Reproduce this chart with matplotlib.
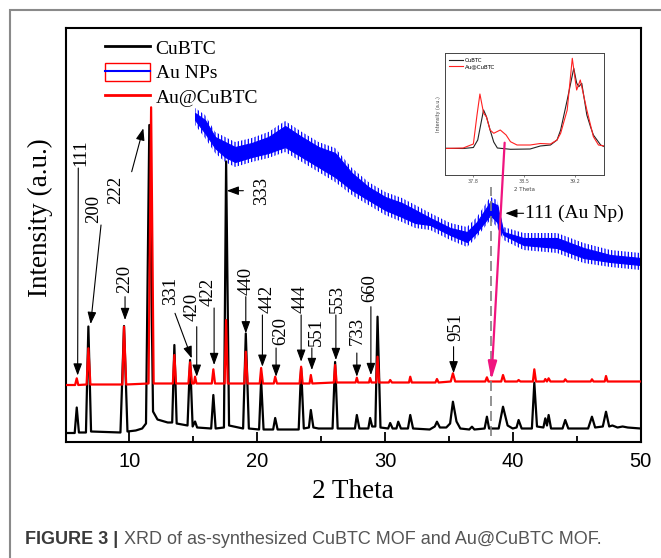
import numpy as np
import matplotlib
matplotlib.use('Agg')
import matplotlib.pyplot as plt
from matplotlib.lines import Line2D
from matplotlib.patches import Rectangle
from matplotlib.legend_handler import HandlerTuple

# XRD patterns: (2 theta, intensity in a.u.)
cubtc = [
    (5.0, 8.5), (5.72, 8.5), (5.88, 34), (6.05, 9), (6.6, 9), (6.79, 115), (7.0, 10),
    (9.3, 9), (9.58, 115.5), (9.85, 10), (10.5, 11), (11.0, 13), (11.3, 18),
    (11.56, 316.5), (11.85, 30), (12.2, 22), (13.0, 19), (13.35, 19), (13.52, 96.5),
    (13.7, 18), (14.55, 16), (14.75, 81.5), (14.95, 15), (15.14, 20), (15.3, 14),
    (16.4, 13), (16.57, 46.5), (16.75, 13), (17.4, 14), (17.57, 280), (17.8, 16),
    (18.9, 13), (19.11, 108), (19.35, 13), (20.15, 12), (20.31, 61.5), (20.5, 12),
    (21.25, 12), (21.41, 23.5), (21.6, 12), (23.25, 12), (23.44, 73.5), (23.65, 13),
    (24.05, 14), (24.2, 31.5), (24.4, 14), (24.8, 13), (25.9, 13), (26.1, 79.5),
    (26.3, 13), (27.65, 13), (27.8, 26.5), (28.0, 13), (28.7, 13), (28.84, 23.5),
    (29.0, 15), (29.25, 15), (29.42, 124.8), (29.65, 14), (30.25, 13), (30.41, 18.5),
    (30.6, 13), (30.9, 13), (31.04, 19.8), (31.25, 13), (31.8, 13), (31.98, 26.5),
    (32.2, 13), (33.5, 12), (33.9, 15), (34.07, 19.8), (34.3, 14), (34.8, 14),
    (35.1, 18), (35.32, 39.8), (35.6, 20), (35.9, 13), (36.6, 12), (36.81, 14.8),
    (37.0, 12), (37.8, 13), (37.98, 24.8), (38.15, 13), (38.9, 13), (39.24, 34.8),
    (39.6, 16), (40.0, 13), (40.3, 14), (40.46, 21.5), (40.7, 13), (41.5, 13),
    (41.69, 58.8), (41.9, 15), (42.4, 14), (42.55, 23.2), (42.68, 16), (42.81, 26.5),
    (43.0, 13), (43.9, 13), (44.11, 21.5), (44.35, 13), (45.9, 13), (46.2, 24.8),
    (46.45, 14), (47.05, 15), (47.3, 29.8), (47.55, 15), (47.8, 16), (48.2, 14),
    (48.6, 15), (49.0, 14), (50.0, 13),
]

au_cubtc = [
    (5.0, 56.5), (5.75, 56.5), (5.88, 63.2), (6.0, 56.5), (6.65, 57), (6.79, 93.2),
    (6.95, 57), (9.45, 57), (9.58, 114.8), (9.75, 57), (11.5, 58), (11.7, 334.2),
    (11.9, 58), (13.4, 58), (13.52, 86.5), (13.65, 58), (14.62, 58), (14.75, 79.2),
    (14.9, 58), (15.05, 58), (15.14, 64.8), (15.25, 58), (16.45, 58), (16.57, 72.2),
    (16.7, 58), (17.45, 58), (17.57, 121.5), (17.7, 58), (19.0, 58), (19.11, 89.8),
    (19.25, 58), (20.2, 58), (20.31, 73.5), (20.45, 58), (21.3, 58), (21.41, 64.8),
    (21.55, 58), (23.32, 58), (23.44, 74.8), (23.56, 58), (24.1, 58), (24.2, 66.5),
    (24.32, 58), (26.0, 59), (26.1, 76.5), (26.22, 59), (27.7, 59), (27.8, 63.8),
    (27.9, 59), (28.75, 59), (28.84, 63.5), (28.95, 59), (29.32, 59), (29.42, 84.8),
    (29.55, 59), (30.3, 59), (30.41, 61.5), (30.55, 59), (31.88, 59), (31.98, 64.8),
    (32.1, 59), (33.95, 59), (34.07, 62.5), (34.2, 59), (35.15, 60), (35.32, 68.2),
    (35.5, 60), (37.85, 60), (37.98, 64.2), (38.1, 60), (39.1, 60), (39.24, 66.5),
    (39.4, 60), (40.35, 60), (40.46, 61.5), (40.6, 60), (41.58, 60), (41.69, 72.2),
    (41.82, 60), (42.45, 60), (42.55, 62.5), (42.68, 60), (42.81, 63.2), (42.95, 60),
    (44.0, 60), (44.11, 62.2), (44.25, 60), (46.1, 60), (46.2, 62.2), (46.32, 60),
    (47.2, 60), (47.3, 65.5), (47.42, 60), (50.0, 60),
]

# Au NPs: noisy trace, read as lower / upper edge of the noise band
blue_tt = [15.14, 15.92, 16.71, 17.49, 18.27, 19.58, 20.88, 22.19, 23.5, 24.8, 26.1,
           27.41, 28.71, 30.02, 31.33, 32.37, 33.54, 35.11, 36.42, 37.2, 38.24, 38.77,
           39.28, 40.85, 43.47, 45.55, 47.64, 50.0]
blue_lo = [316.5, 303.5, 288.5, 279.5, 274.5, 279.5, 283.5, 289.5, 279.5, 269.5, 259.5,
           246.5, 236.5, 226.5, 219.5, 213.5, 211.5, 201.5, 194.5, 204.5, 221.5, 214.5,
           201.5, 191.5, 188.5, 178.5, 174.5, 171.5]
blue_hi = [333.5, 326.5, 309.5, 304.5, 299.5, 303.5, 309.5, 320.5, 309.5, 299.5, 293.5,
           273.5, 259.5, 249.5, 243.5, 236.5, 228.5, 218.5, 214.5, 224.5, 244.5, 241.5,
           214.5, 208.5, 208.5, 198.5, 191.5, 188.5]

# inset: zoom on 37.4 - 39.6
ins_cubtc = [(37.41, 26.7), (37.66, 26.5), (37.8, 27.5), (37.86, 35), (37.94, 65),
             (37.98, 58.3), (38.03, 45), (38.08, 33), (38.13, 27), (38.31, 25.7),
             (38.58, 26), (38.72, 29), (38.86, 30), (38.95, 35), (39.0, 45), (39.09, 75),
             (39.18, 106.7), (39.22, 92), (39.25, 88.3), (39.29, 91.7), (39.36, 60),
             (39.41, 48.3), (39.45, 40), (39.5, 35), (39.55, 30), (39.6, 28.3)]
ins_au = [(37.41, 26.5), (37.66, 27), (37.8, 31), (37.85, 60), (37.89, 81), (37.94, 62),
          (37.98, 58), (38.03, 45), (38.08, 41.7), (38.17, 45), (38.25, 40), (38.31, 33.3),
          (38.4, 30), (38.58, 30), (38.72, 31.5), (38.86, 31), (38.95, 35), (39.0, 41.7),
          (39.09, 65), (39.16, 116.7), (39.2, 95), (39.22, 85), (39.27, 95), (39.36, 65),
          (39.45, 38.3), (39.52, 30), (39.6, 29)]

# hkl labels: text, text centre, arrow start, arrow tip
peak_labels = [
    ('111', (6.19, 288.5), (6.0, 273.5), (5.95, 66)),
    ('200', (7.23, 232.5), (7.78, 216.5), (6.97, 117.5)),
    ('222', (8.93, 251.5), (10.18, 269.8), (11.09, 313.2)),
    ('220', (9.6, 162.5), (9.66, 144.8), (9.66, 121.5)),
    ('331', (13.26, 150.5), (13.57, 128.2), (14.88, 83.2)),
    ('420', (14.93, 134.5), (15.27, 114.8), (15.27, 64.8)),
    ('422', (16.14, 149.5), (16.63, 133.5), (16.63, 76.5)),
    ('333', (20.31, 250.5), (18.92, 250.8), (17.62, 250.8)),
    ('440', (19.11, 160.5), (19.11, 144.8), (19.11, 108.2)),
    ('442', (20.76, 142.5), (20.41, 126.5), (20.41, 74.8)),
    ('620', (21.85, 110.5), (21.48, 93.5), (21.48, 64.8)),
    ('444', (23.36, 142.5), (23.44, 126.5), (23.44, 79.8)),
    ('551', (24.67, 109.5), (24.28, 93.5), (24.28, 71.5)),
    ('553', (26.24, 142.5), (26.16, 126.5), (26.16, 81.5)),
    ('733', (27.85, 110.5), (27.8, 88.5), (27.8, 64.8)),
    ('660', (28.84, 153.5), (28.9, 134.8), (28.9, 66.5)),
    ('951', (35.56, 114.5), (35.37, 94.8), (35.37, 68.2)),
]

serif = 'Liberation Serif'
sans = 'Liberation Sans'
plt.rcParams['hatch.linewidth'] = 0.9

fig = plt.figure(figsize=(6.61, 5.58), dpi=100)

# grey frame of the figure panel
fig.add_artist(Rectangle((10 / 661, -0.1), 2, 1 - 10.5 / 558 + 0.1,
                         transform=fig.transFigure, facecolor='none',
                         edgecolor='#8a8a8a', lw=1.5))

ax = fig.add_axes([65.5 / 661, 1 - 441.5 / 558, 575 / 661, 413.5 / 558])

# noise band: spiky fringe (hatched) around a dense core
ax.fill_between(blue_tt, blue_lo, blue_hi, facecolor='none', edgecolor='#0000ff',
                hatch='|||||', lw=0, zorder=1)
core = 5
ax.fill_between(blue_tt, np.array(blue_lo) + core, np.array(blue_hi) - core,
                color='#0000ff', lw=0.8, zorder=1)
ax.plot(*zip(*cubtc), color='black', lw=1.6, zorder=2)
ax.plot(*zip(*au_cubtc), color='#ff0000', lw=1.6, zorder=3)

ax.set_xlim(5, 50)
ax.set_ylim(0, 413.5)
ax.set_xticks([10, 20, 30, 40, 50])
ax.set_xticks([5, 15, 25, 35, 45], minor=True)
ax.set_yticks([])
ax.tick_params(axis='x', which='major', direction='in', length=7, width=1.3, pad=7.5,
               labelsize=14.5)
ax.tick_params(axis='x', which='minor', direction='in', length=4.5, width=1.3)
for lab in ax.get_xticklabels():
    lab.set_fontfamily(sans)
for s in ax.spines.values():
    s.set_linewidth(1.5)

ax.set_xlabel('2 Theta', fontfamily=serif, fontsize=19.5)
ax.xaxis.set_label_coords(0.5, -0.09)
ax.set_ylabel('Intensity (a.u.)', fontfamily=serif, fontsize=19.5)
ax.yaxis.set_label_coords(-0.022, 0.542)

arrow = dict(arrowstyle='-|>,head_length=0.6,head_width=0.22', color='black', lw=0.8,
             shrinkA=0, shrinkB=0, mutation_scale=12)
for txt, pos, tail, tip in peak_labels:
    ax.annotate('', xy=tip, xytext=tail, arrowprops=arrow, zorder=4)
    ax.text(pos[0], pos[1], txt, rotation=90, ha='center', va='center',
            fontfamily=serif, fontsize=13.5, zorder=4)

ax.annotate('', xy=(39.42, 228.2), xytext=(40.85, 228.2), arrowprops=arrow, zorder=4)
ax.text(40.98, 228.0, '111 (Au Np)', ha='left', va='center', fontfamily=serif,
        fontsize=14)

ax.vlines(38.3, 6, 255, colors='#808080', linestyles=(0, (6, 3)), lw=1.2, zorder=4)

handles = [Line2D([], [], color='black', lw=2),
           (Rectangle((0, 0), 1, 1, facecolor='none', edgecolor='#ff0000', lw=1),
            Line2D([], [], color='#0000ff', lw=1.5)),
           Line2D([], [], color='#ff0000', lw=2)]
ax.legend(handles, ['CuBTC', 'Au NPs', 'Au@CuBTC'],
          handler_map={tuple: HandlerTuple(ndivide=1)},
          loc='upper left', bbox_to_anchor=(0.0687, 0.976), frameon=False,
          borderpad=0, borderaxespad=0, handlelength=2.3, handleheight=1.1,
          handletextpad=0.3, labelspacing=0.24, prop={'family': serif, 'size': 14})

# inset
axins = fig.add_axes([445 / 661, 1 - 175 / 558, 159.3 / 661, 121.7 / 558])
axins.plot(*zip(*ins_cubtc), color='#222222', lw=0.8, label='CuBTC')
axins.plot(*zip(*ins_au), color='#ff2020', lw=0.8, label='Au@CuBTC')
axins.set_xlim(37.41, 39.6)
axins.set_ylim(0, 121.7)
axins.set_xticks([37.8, 38.5, 39.2])
axins.set_yticks([])
axins.tick_params(axis='x', direction='out', length=1.5, width=0.5, pad=1.5,
                  labelsize=3.5, colors='#555555')
for s in axins.spines.values():
    s.set_linewidth(0.7)
    s.set_color('#444444')
axins.set_xlabel('2 Theta', fontsize=4, labelpad=2, color='#444444')
axins.set_ylabel('Intensity (a.u.)', fontsize=3.5, labelpad=3, color='#444444')
axins.legend(loc='upper left', frameon=False, fontsize=4, handlelength=2.5,
             borderpad=0.3, labelspacing=0.2, handletextpad=0.3)

# magenta pointer from the inset down to the Au(111) position
axins.annotate('', xy=(38.33, 61.5), xycoords=ax.transData, xytext=(38.23, 32.3),
               textcoords='data', annotation_clip=False,
               arrowprops=dict(arrowstyle='-|>,head_length=0.9,head_width=0.22',
                               color='#f0147f', lw=1.6, shrinkA=0, shrinkB=0,
                               mutation_scale=12))

# caption: bold figure number, then the plain text right after it
cap_y = 1 - 539.5 / 558
t1 = fig.text(25 / 661, cap_y, 'FIGURE 3 |', fontfamily=sans, fontweight='bold',
              fontsize=13, color='#3a3a3a', va='center')
bb = t1.get_window_extent(fig.canvas.get_renderer())
fig.text((bb.x1 + 6) / 661, cap_y, 'XRD of as-synthesized CuBTC MOF and Au@CuBTC MOF.',
         fontfamily=sans, fontsize=13, color='#555555', va='center')

fig.savefig('out.png', dpi=100)
